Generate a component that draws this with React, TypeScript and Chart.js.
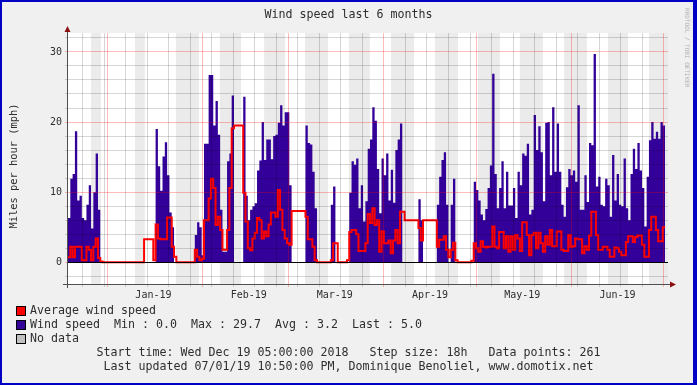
import React, { useEffect, useRef } from 'react';
import { Chart, registerables } from 'chart.js';

Chart.register(...registerables);

const FONT = '"DejaVu Sans Mono", monospace';
const TEXT_COLOR = '#2e2e2e';

// ---- texts ----
const chartTitle = 'Wind speed last 6 months';
const yAxisTitle = 'Miles per hour (mph)';
const legendAvg = 'Average wind speed';
const legendWind = 'Wind speed  Min : 0.0  Max : 29.7  Avg : 3.2  Last : 5.0';
const legendNoData = 'No data';
const footerLine1 = 'Start time: Wed Dec 19 05:00:00 2018   Step size: 18h   Data points: 261';
const footerLine2 = 'Last updated 07/01/19 10:50:00 PM, Dominique Benoliel, www.domotix.net';
const watermark = 'RRDTOOL / TOBI OETIKER';

// ---- time axis ----
const startTimeUTC = Date.UTC(2018, 11, 19, 5, 0, 0);
const stepDays = 0.75; // 18 h per data point
const xRangeDays = 195.2;
const firstMonday = '2018-12-24';
const monthStartDates = ['2019-01-01', '2019-02-01', '2019-03-01', '2019-04-01', '2019-05-01', '2019-06-01', '2019-07-01'];
const monthLabelDates = ['2019-01-16', '2019-02-16', '2019-03-16', '2019-04-16', '2019-05-16', '2019-06-16'];
const monthLabels = ['Jan-19', 'Feb-19', 'Mar-19', 'Apr-19', 'May-19', 'Jun-19'];
// shaded background periods (days from start)
const shadedBands: [number, number][] = [
  [7.5, 10.7], [21.8, 25.0], [35.1, 42.6], [49.4, 56.3], [63.8, 70.6], [77.1, 84.6],
  [91.4, 98.2], [105.1, 112.6], [119.4, 126.9], [133.4, 140.5], [147.0, 154.5],
  [161.4, 168.8], [175.7, 182.2], [189.0, 195.2],
];

// ---- value axis ----
const yMin = -3.1;
const yMax = 32.7;
const yTickStep = 2;
const yMajorStep = 10;

// ---- series (one value per 18 h step) ----
const windSpeed = [
  6.3, 11.9, 12.6, 18.7, 8.8, 9.5, 6.3, 6.0, 8.2, 11.0, 4.8, 10.0, 15.5, 7.5,
  0, 0, 0, 0, 0, 0, 0, 0, 0, 0, 0, 0, 0, 0, 0, 0, 0, 0, 0, 0, 0, 0, 0,
  0,
  19.0, 13.7, 10.2, 15.1, 17.1, 12.4, 7.1, 5.0,
  0, 0, 0, 0, 0, 0, 0, 0, 0,
  3.9, 5.7, 5.0, 1.0,
  16.9, 16.9, 26.7, 26.7, 19.5, 23.0, 18.2, 7.5, 1.5, 1.5, 14.4, 15.5, 23.8,
  0, 0, 0, 0,
  23.6, 9.5, 6.0, 7.5, 8.0, 8.4, 13.1, 14.5, 20.0, 14.6, 17.5, 17.5, 14.7, 18.0, 18.2, 19.9, 22.4, 19.5, 21.4, 21.4, 11.0,
  0, 0, 0, 0, 0, 0,
  19.5, 17.0, 16.8, 12.9, 7.7,
  0, 0, 0, 0, 0, 0,
  8.2, 10.8,
  0, 0, 0, 0, 0, 0,
  9.9, 14.4, 13.9, 14.8, 7.7, 11.0, 5.8, 8.7, 16.2, 17.5, 22.1, 20.2, 13.3, 7.0, 14.8, 12.4, 15.5, 8.8, 13.2, 8.5, 16.0, 17.5, 19.8,
  0, 0, 0, 0, 0, 0, 0,
  9.0, 6.0,
  0, 0, 0, 0, 0, 0,
  8.2, 12.2, 14.6, 15.7, 8.2, 0, 8.2, 11.9, 0,
  0, 0, 0, 0, 0, 0, 0,
  11.5, 10.3, 8.8, 6.8, 6.0, 7.6, 10.6, 13.8, 26.9, 12.6, 7.7, 10.6, 14.4, 7.7, 12.9, 8.1,
  8.1, 10.6, 6.3, 12.9, 11.0, 15.5, 15.2, 16.9, 6.8, 7.5, 21.0, 16.0, 19.4, 15.7, 8.7, 19.9,
  20.0, 12.4, 22.1, 12.9, 19.8, 12.9, 8.2, 6.5, 10.7, 13.3, 12.4, 13.1, 11.5, 22.4, 7.5, 7.5, 12.4,
  8.6, 17.0, 16.7, 29.7, 10.8, 12.2, 8.2, 8.0, 11.9, 11.0, 6.5, 15.3, 8.8, 12.6, 8.2, 8.0, 14.8,
  7.7, 6.0, 12.6, 16.2, 13.3, 17.0, 13.1, 10.6, 5.1, 12.2, 17.4, 20.0, 17.6, 18.6, 17.6, 20.0, 19.5,
];

const avgWindSpeed = [
  0.7, 2.2, 0.7, 2.2, 2.2, 2.2, 0.3, 0.3, 2.2, 1.8, 0.3, 2.2, 3.4, 0.6, 0.1,
  0, 0, 0, 0, 0, 0, 0, 0, 0, 0, 0, 0, 0, 0, 0, 0, 0, 0,
  3.3, 3.3, 3.3, 3.3,
  0.3,
  5.4, 3.4, 3.3, 3.3, 3.3, 6.4, 6.4, 2.2, 0.8,
  0, 0, 0, 0, 0, 0, 0, 0,
  1.8, 0.8, 0.3, 0.5,
  6.0, 6.0, 9.1, 11.9, 10.6, 5.3, 6.5, 4.6, 1.8, 1.8, 4.6, 10.6, 19.1, 19.5, 19.5, 19.5, 19.5,
  9.9, 5.8, 2.0, 1.7, 3.4, 4.2, 6.3, 6.0, 3.4, 4.4, 3.7, 5.4, 7.1, 7.1, 6.5, 10.3, 7.5, 4.6, 3.4, 2.7, 2.5,
  7.3, 7.3, 7.3, 7.3, 7.3, 7.3,
  6.5, 3.3, 3.3, 2.2, 0.3,
  0, 0, 0, 0, 0, 0,
  0.3, 2.7, 2.7,
  0, 0, 0, 0,
  0.3,
  4.3, 4.6, 4.6, 4.0, 1.6, 1.6, 1.6, 2.7, 6.9, 5.6, 7.7, 5.3, 6.0, 1.5, 4.4, 2.7, 2.7, 3.1, 1.3, 3.1, 4.6, 2.7, 7.2,
  7.2,
  6.0, 6.0, 6.0, 6.0, 6.0, 6.0,
  4.9, 3.1,
  6.0, 6.0, 6.0, 6.0, 6.0, 6.0,
  2.2, 3.2, 3.2, 3.7, 1.8, 0.7, 1.8, 2.8, 0.3,
  0, 0, 0, 0, 0, 0,
  0.2,
  2.7, 2.0, 1.5, 3.0, 2.2, 2.1, 2.2, 2.2, 5.1, 2.2, 2.0, 4.3, 4.3, 2.0, 3.7, 1.5,
  3.7, 1.8, 3.9, 3.4, 1.6, 5.7, 5.7, 3.9, 1.0, 3.9, 4.2, 2.0, 4.2, 2.7, 1.5, 3.7,
  2.5, 4.6, 2.3, 2.3, 4.4, 4.4, 1.8, 1.6, 1.6, 3.9, 2.2, 2.3, 3.4, 3.3, 3.3, 1.3, 2.3,
  1.8, 3.8, 7.2, 7.2, 3.9, 1.8, 1.8, 2.2, 2.2, 1.8, 0.8, 0.8, 2.1, 2.0, 1.5, 1.0, 1.0,
  2.9, 3.7, 3.7, 2.9, 3.6, 3.8, 3.8, 2.5, 0.8, 0.8, 4.6, 6.5, 6.5, 4.6, 3.0, 3.0, 5.0,
];

// ---- colours ----
const windColor = '#330099';
const avgColor = '#ff0000';
const noDataColor = '#c0c0c0';
const majorGridColor = 'rgba(255,0,0,0.27)';
const minorGridColor = 'rgba(0,0,0,0.16)';

const DAY_MS = 86400000;
const dayOf = (iso: string) => (Date.parse(iso + 'T00:00:00Z') - startTimeUTC) / DAY_MS;

const stepTable = (values: number[]) =>
  values.flatMap((v, i) => [
    { x: i * stepDays, y: v },
    { x: (i + 1) * stepDays, y: v },
  ]);

function buildXTicks() {
  const kinds = new Map<string, { value: number; kind: string; label: string }>();
  const key = (v: number) => v.toFixed(4);
  const mondayMs = Date.parse(firstMonday + 'T00:00:00Z');
  for (let k = 0; ; k++) {
    const d = (mondayMs + k * 7 * DAY_MS - startTimeUTC) / DAY_MS;
    if (d > xRangeDays) break;
    kinds.set(key(d), { value: d, kind: 'week', label: '' });
  }
  monthStartDates.forEach((s) => {
    const d = dayOf(s);
    if (d <= xRangeDays) kinds.set(key(d), { value: d, kind: 'month', label: '' });
  });
  monthLabelDates.forEach((s, i) => {
    const d = dayOf(s);
    kinds.set(key(d), { value: d, kind: 'label', label: monthLabels[i] });
  });
  return Array.from(kinds.values()).sort((a, b) => a.value - b.value);
}

const xTicks = buildXTicks();
const xTickInfo = (v: number) => xTicks.find((t) => Math.abs(t.value - v) < 1e-6);

const decorPlugin = {
  id: 'rrdDecor',
  beforeDraw(chart: any) {
    const { ctx, chartArea: a, scales } = chart;
    const xs = scales.x;
    ctx.save();
    ctx.fillStyle = '#f0f0f0';
    ctx.fillRect(0, 0, chart.width, chart.height);
    ctx.fillStyle = '#ffffff';
    ctx.fillRect(a.left, a.top, a.right - a.left, a.bottom - a.top);
    ctx.fillStyle = '#ebebeb';
    shadedBands.forEach(([s, e]) => {
      const x0 = xs.getPixelForValue(s);
      const x1 = xs.getPixelForValue(Math.min(e, xRangeDays));
      ctx.fillRect(x0, a.top, x1 - x0, a.bottom - a.top);
    });
    ctx.restore();
  },
  afterDraw(chart: any) {
    const { ctx, chartArea: a, scales } = chart;
    const ys = scales.y;
    ctx.save();
    // zero line
    const zero = ys.getPixelForValue(0);
    ctx.fillStyle = '#000000';
    ctx.fillRect(a.left, Math.round(zero), a.right - a.left, 1);

    // axes
    ctx.strokeStyle = '#505050';
    ctx.lineWidth = 1;
    ctx.beginPath();
    ctx.moveTo(a.left - 0.5, a.top - 3);
    ctx.lineTo(a.left - 0.5, a.bottom + 4);
    ctx.stroke();
    ctx.beginPath();
    ctx.moveTo(a.left - 5, a.bottom + 0.5);
    ctx.lineTo(a.right + 3, a.bottom + 0.5);
    ctx.stroke();
    // arrows
    ctx.fillStyle = '#8b1010';
    ctx.beginPath();
    ctx.moveTo(a.left - 0.5, a.top - 7);
    ctx.lineTo(a.left - 3.5, a.top - 1);
    ctx.lineTo(a.left + 2.5, a.top - 1);
    ctx.closePath();
    ctx.fill();
    ctx.beginPath();
    ctx.moveTo(a.right + 8, a.bottom + 0.5);
    ctx.lineTo(a.right + 2, a.bottom - 2.5);
    ctx.lineTo(a.right + 2, a.bottom + 3.5);
    ctx.closePath();
    ctx.fill();

    // title
    ctx.fillStyle = TEXT_COLOR;
    ctx.textBaseline = 'middle';
    ctx.textAlign = 'center';
    ctx.font = `11.63px ${FONT}`;
    ctx.fillText(chartTitle, chart.width / 2, 15);

    // y axis title
    ctx.save();
    ctx.translate(14, 166);
    ctx.rotate(-Math.PI / 2);
    ctx.font = `10.4px ${FONT}`;
    ctx.fillText(yAxisTitle, 0, 0);
    ctx.restore();

    // legend
    const rows = [
      { color: avgColor, text: legendAvg, y: 311 },
      { color: windColor, text: legendWind, y: 325 },
      { color: noDataColor, text: legendNoData, y: 339 },
    ];
    ctx.font = `11.63px ${FONT}`;
    ctx.textAlign = 'left';
    rows.forEach((r) => {
      ctx.fillStyle = r.color;
      ctx.fillRect(17, r.y - 4, 8, 8);
      ctx.strokeStyle = '#000000';
      ctx.strokeRect(16.5, r.y - 4.5, 9, 9);
      ctx.fillStyle = TEXT_COLOR;
      ctx.fillText(r.text, 30, r.y);
    });
    ctx.textAlign = 'center';
    ctx.fillText(footerLine1, chart.width / 2, 353);
    ctx.fillText(footerLine2, chart.width / 2, 367);

    // watermark
    ctx.save();
    ctx.translate(687, 8);
    ctx.rotate(Math.PI / 2);
    ctx.textAlign = 'left';
    ctx.fillStyle = '#b0b0b0';
    ctx.font = `6px ${FONT}`;
    ctx.fillText(watermark, 0, 0);
    ctx.restore();

    // frame
    ctx.fillStyle = '#0000c4';
    ctx.fillRect(0, 0, chart.width, 2);
    ctx.fillRect(0, chart.height - 2, chart.width, 2);
    ctx.fillRect(0, 0, 2, chart.height);
    ctx.fillRect(chart.width - 4, 0, 4, chart.height);
    ctx.restore();
  },
};

export default function App() {
  const canvasRef = useRef<HTMLCanvasElement | null>(null);

  useEffect(() => {
    document.body.style.margin = '0';
    const canvas = canvasRef.current;
    if (!canvas) return;
    const chart = new Chart(canvas, {
      type: 'line',
      data: {
        datasets: [
          {
            label: 'Wind speed',
            data: stepTable(windSpeed),
            borderWidth: 0,
            borderColor: 'rgba(0,0,0,0)',
            backgroundColor: windColor,
            fill: 'origin',
            pointRadius: 0,
            tension: 0,
            order: 2,
          },
          {
            label: 'Average wind speed',
            data: stepTable(avgWindSpeed),
            borderWidth: 2,
            borderColor: avgColor,
            backgroundColor: avgColor,
            fill: false,
            pointRadius: 0,
            tension: 0,
            borderJoinStyle: 'miter',
            borderCapStyle: 'butt',
            order: 1,
          },
        ],
      } as any,
      options: {
        responsive: false,
        animation: false,
        devicePixelRatio: 1,
        events: [],
        layout: { padding: { left: 0, top: 33, right: 29, bottom: 0 } },
        plugins: {
          legend: { display: false },
          tooltip: { enabled: false },
          title: { display: false },
        },
        scales: {
          x: {
            type: 'linear',
            position: 'bottom',
            min: 0,
            max: xRangeDays,
            afterBuildTicks: (scale: any) => {
              scale.ticks = xTicks.map((t) => ({ value: t.value }));
            },
            afterFit: (scale: any) => {
              scale.height = 385 - 284;
            },
            ticks: {
              autoSkip: false,
              maxRotation: 0,
              minRotation: 0,
              padding: 2,
              color: TEXT_COLOR,
              font: { family: FONT, size: 10 },
              callback: (v: any) => {
                const t = xTickInfo(Number(v));
                return t ? t.label : '';
              },
            },
            grid: {
              z: 1,
              drawTicks: true,
              tickLength: 3,
              lineWidth: 1,
              color: (ctx: any) => {
                const t = ctx.tick ? xTickInfo(ctx.tick.value) : undefined;
                if (!t || t.kind === 'label') return 'rgba(0,0,0,0)';
                return t.kind === 'month' ? majorGridColor : minorGridColor;
              },
            },
            border: { display: false },
          },
          y: {
            type: 'linear',
            position: 'left',
            min: yMin,
            max: yMax,
            afterFit: (scale: any) => {
              scale.width = 68;
            },
            ticks: {
              stepSize: yTickStep,
              includeBounds: false,
              autoSkip: false,
              padding: 3,
              color: TEXT_COLOR,
              font: { family: FONT, size: 10 },
              callback: (v: any) => (Number(v) % yMajorStep === 0 ? String(v) : ''),
            },
            grid: {
              z: 1,
              drawTicks: true,
              tickLength: 3,
              lineWidth: 1,
              color: (ctx: any) =>
                ctx.tick && ctx.tick.value % yMajorStep === 0 ? majorGridColor : minorGridColor,
            },
            border: { display: false },
          },
        },
      } as any,
      plugins: [decorPlugin],
    });
    return () => chart.destroy();
  }, []);

  return (
    <div style={{ position: 'absolute', left: 0, top: 0, width: 697, height: 385 }}>
      <canvas ref={canvasRef} width={697} height={385} style={{ width: 697, height: 385, display: 'block' }} />
    </div>
  );
}
